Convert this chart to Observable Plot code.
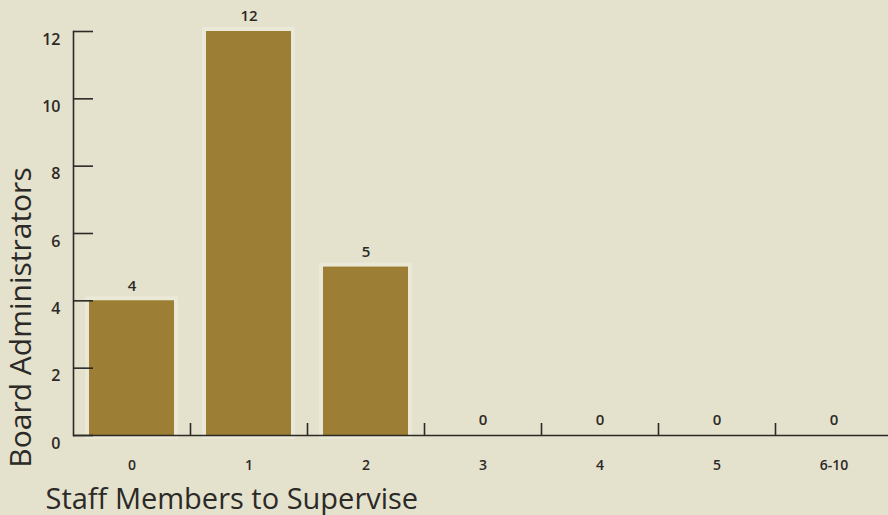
<!DOCTYPE html>
<html><head><meta charset="utf-8">
<script src="https://cdn.jsdelivr.net/npm/d3@7"></script>
<script src="https://cdn.jsdelivr.net/npm/@observablehq/plot@0.6"></script>
<style>
html,body{margin:0;padding:0;background:#e4e1cd;overflow:hidden;}
#chart svg{display:block;}
</style></head><body><div id="chart"></div>
<script>
const categories = ["0","1","2","3","4","5","6-10"];
const counts = [4,12,5,0,0,0,0];
const yTicks = [0,2,4,6,8,10,12];
const xTitle = "Staff Members to Supervise";
const yTitle = "Board Administrators";

const data = categories.map((c,i)=>({category:c, count:counts[i]}));

const W = 888, H = 515, mL = 73, mT = 31, mB = 80;
const step = 117;
const xRange = [mL, mL + categories.length*step];
const frameH = H - mT - mB;
const ink = "#2b2a26";

const chart = Plot.plot({
  width: W, height: H,
  marginLeft: mL, marginRight: 0, marginTop: mT, marginBottom: mB,
  style: {background: "transparent", fontFamily: "'Open Sans', sans-serif", color: ink},
  x: {domain: categories, range: xRange, paddingInner: 0.27, paddingOuter: 0.135, label: null},
  y: {domain: [0, 12], label: null},
  marks: [
    Plot.barY(data.filter(d=>d.count>0), {x:"category", y:"count", fill:"#9d7e35", stroke:"#efecdc", strokeWidth:8, strokeOpacity:0.6}),
    Plot.barY(data, {x:"category", y:"count", fill:"#9d7e35"}),
    Plot.frame({anchor:"left", stroke: ink, strokeWidth:1.6}),
    Plot.ruleY([0], {stroke: ink, strokeWidth:1.6}),
    Plot.axisY(yTicks, {tickSize:-20, text:null, stroke: ink, strokeWidth:1.6}),
    Plot.axisY(yTicks, {tickSize:0, tickPadding:13, dy:8, fontSize:16, fontWeight:600, label:null}),
    Plot.tickX(categories.slice(1), {x: d=>d, dx: -step/2, insetTop: frameH-12, stroke: ink, strokeWidth:1.6}),
    Plot.axisX({tickSize:0, tickPadding:25, fontSize:14, fontWeight:600, label:null}),
    Plot.text(data, {x:"category", y:"count", text: d=>String(d.count), dy:-15, fontSize:15, fontWeight:600, fill: ink}),
    Plot.text([xTitle], {frameAnchor:"bottom-left", textAnchor:"start", lineAnchor:"bottom", dx:-28, dy:73, fontSize:29, fill: ink}),
    Plot.text([yTitle], {frameAnchor:"left", textAnchor:"middle", rotate:-90, lineAnchor:"bottom", dx:-43, dy:84, fontSize:30, fill: ink})
  ]
});
document.getElementById("chart").appendChild(chart);
</script></body></html>
